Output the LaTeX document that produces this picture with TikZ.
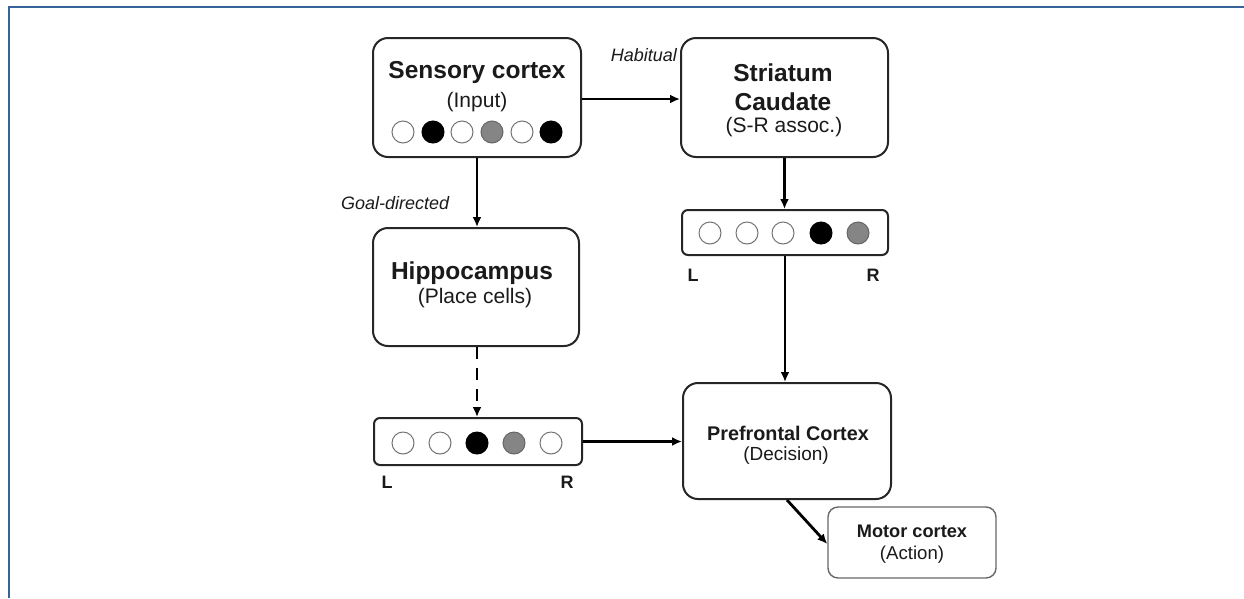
\documentclass[tikz,border=0pt]{standalone}
\usepackage{fontspec}
\setmainfont{Liberation Sans}
\usetikzlibrary{arrows.meta}
\definecolor{framecol}{HTML}{36649A}
\definecolor{boxcol}{HTML}{262626}
\definecolor{txtcol}{HTML}{1A1A1A}
\definecolor{cellgray}{HTML}{858585}
\tikzset{
  bigbox/.style={draw=boxcol, line width=2pt, rounded corners=15pt, fill=white, inner sep=0pt},
  barbox/.style={draw=boxcol, line width=2pt, rounded corners=6pt, fill=white, inner sep=0pt},
  smallbox/.style={draw=boxcol!70, line width=1.4pt, rounded corners=10pt, fill=white, inner sep=0pt},
  ttl/.style={text=txtcol, font=\bfseries\fontsize{24.5}{28}\selectfont, inner sep=0pt},
  sub/.style={text=txtcol, font=\fontsize{21}{24}\selectfont, inner sep=0pt},
  ital/.style={text=txtcol, font=\itshape\fontsize{18}{21}\selectfont, inner sep=0pt},
  lr/.style={text=txtcol, font=\bfseries\fontsize{18}{21}\selectfont, inner sep=0pt},
  cellw/.style={circle, draw=black!55, line width=1pt, fill=white, minimum size=22pt, inner sep=0pt},
  cellb/.style={circle, draw=black, line width=1pt, fill=black, minimum size=22pt, inner sep=0pt},
  cellg/.style={circle, draw=black!60, line width=1pt, fill=cellgray, minimum size=22pt, inner sep=0pt},
  arr/.style={draw=black, line width=2.8pt, -{Latex[length=10pt,width=9pt]}},
}
\begin{document}
\begin{tikzpicture}[x=1pt,y=-1pt]
\useasboundingbox (0,0) rectangle (1244,598);
% frame
\draw[framecol, line width=2.6pt] (9,598) -- (9,7) -- (1244,7);

% boxes
\node[bigbox, minimum width=208pt, minimum height=119pt] (sens) at (477,97.5) {};
\node[bigbox, minimum width=207pt, minimum height=119pt] (stri) at (784.5,97.5) {};
\node[bigbox, minimum width=206pt, minimum height=118pt] (hipp) at (476,287) {};
\node[barbox, minimum width=206pt, minimum height=45pt] (bar2) at (785,232.5) {};
\node[barbox, minimum width=208pt, minimum height=47pt] (bar1) at (478,441.5) {};
\node[bigbox, minimum width=208pt, minimum height=116pt] (pfc) at (787,441) {};
\node[smallbox, minimum width=168pt, minimum height=71pt] (mot) at (912,542.5) {};

% texts
\node[ttl] (sensT) at (477,72) {Sensory cortex};
\node[sub] (sensS) at (477,102) {(Input)};
\node[ttl] (striT1) at (783,73) {Striatum};
\node[ttl] (striT2) at (783,102) {Caudate};
\node[sub] (striS) at (784,127) {(S-R assoc.)};
\node[ttl] (hippT) at (472,273) {Hippocampus};
\node[sub] (hippS) at (475,298) {(Place cells)};
\node[ttl, font=\bfseries\fontsize{19.8}{23}\selectfont] (pfcT) at (788,433) {Prefrontal Cortex};
\node[sub, font=\fontsize{19}{22}\selectfont] (pfcS) at (786,456) {(Decision)};
\node[ttl, font=\bfseries\fontsize{18.2}{21}\selectfont] (motT) at (912,531) {Motor cortex};
\node[sub, font=\fontsize{18.6}{21}\selectfont] (motS) at (912,555) {(Action)};

\node[ital, anchor=east] (habit) at (677,55) {Habitual};
\node[ital, anchor=west] (goal) at (341,203) {Goal-directed};

% cells in sensory cortex
\node[cellw] (s1) at (403,132) {};
\node[cellb] (s2) at (433,132) {};
\node[cellw] (s3) at (462,132) {};
\node[cellg] (s4) at (492,132) {};
\node[cellw] (s5) at (522,132) {};
\node[cellb] (s6) at (551,132) {};

% cells in striatum bar
\node[cellw] (b21) at (710,233) {};
\node[cellw] (b22) at (747,233) {};
\node[cellw] (b23) at (783,233) {};
\node[cellb] (b24) at (821,233) {};
\node[cellg] (b25) at (858,233) {};
\node[lr] (b2L) at (693,275) {L};
\node[lr] (b2R) at (873,275) {R};

% cells in hippocampus bar
\node[cellw] (b11) at (403,443) {};
\node[cellw] (b12) at (440,443) {};
\node[cellb] (b13) at (477,443) {};
\node[cellg] (b14) at (514,443) {};
\node[cellw] (b15) at (551,443) {};
\node[lr] (b1L) at (387,482) {L};
\node[lr] (b1R) at (567,482) {R};

% connectors
\draw[arr] ([yshift=-1.5pt]sens.east) -- ([yshift=-1.5pt]stri.west);
\draw[arr] (sens.south) -- (sens.south |- hipp.north);
\draw[arr, dash pattern=on 12pt off 9pt] ([xshift=1pt]hipp.south) -- ([xshift=1pt]hipp.south |- bar1.north);
\draw[arr] (stri.south) -- (stri.south |- bar2.north);
\draw[arr] (bar2.south) -- (bar2.south |- pfc.north);
\draw[arr] (bar1.east) -- (bar1.east -| pfc.west);
\draw[arr] (pfc.south) -- ([yshift=-1.5pt]mot.west);
\end{tikzpicture}
\end{document}
